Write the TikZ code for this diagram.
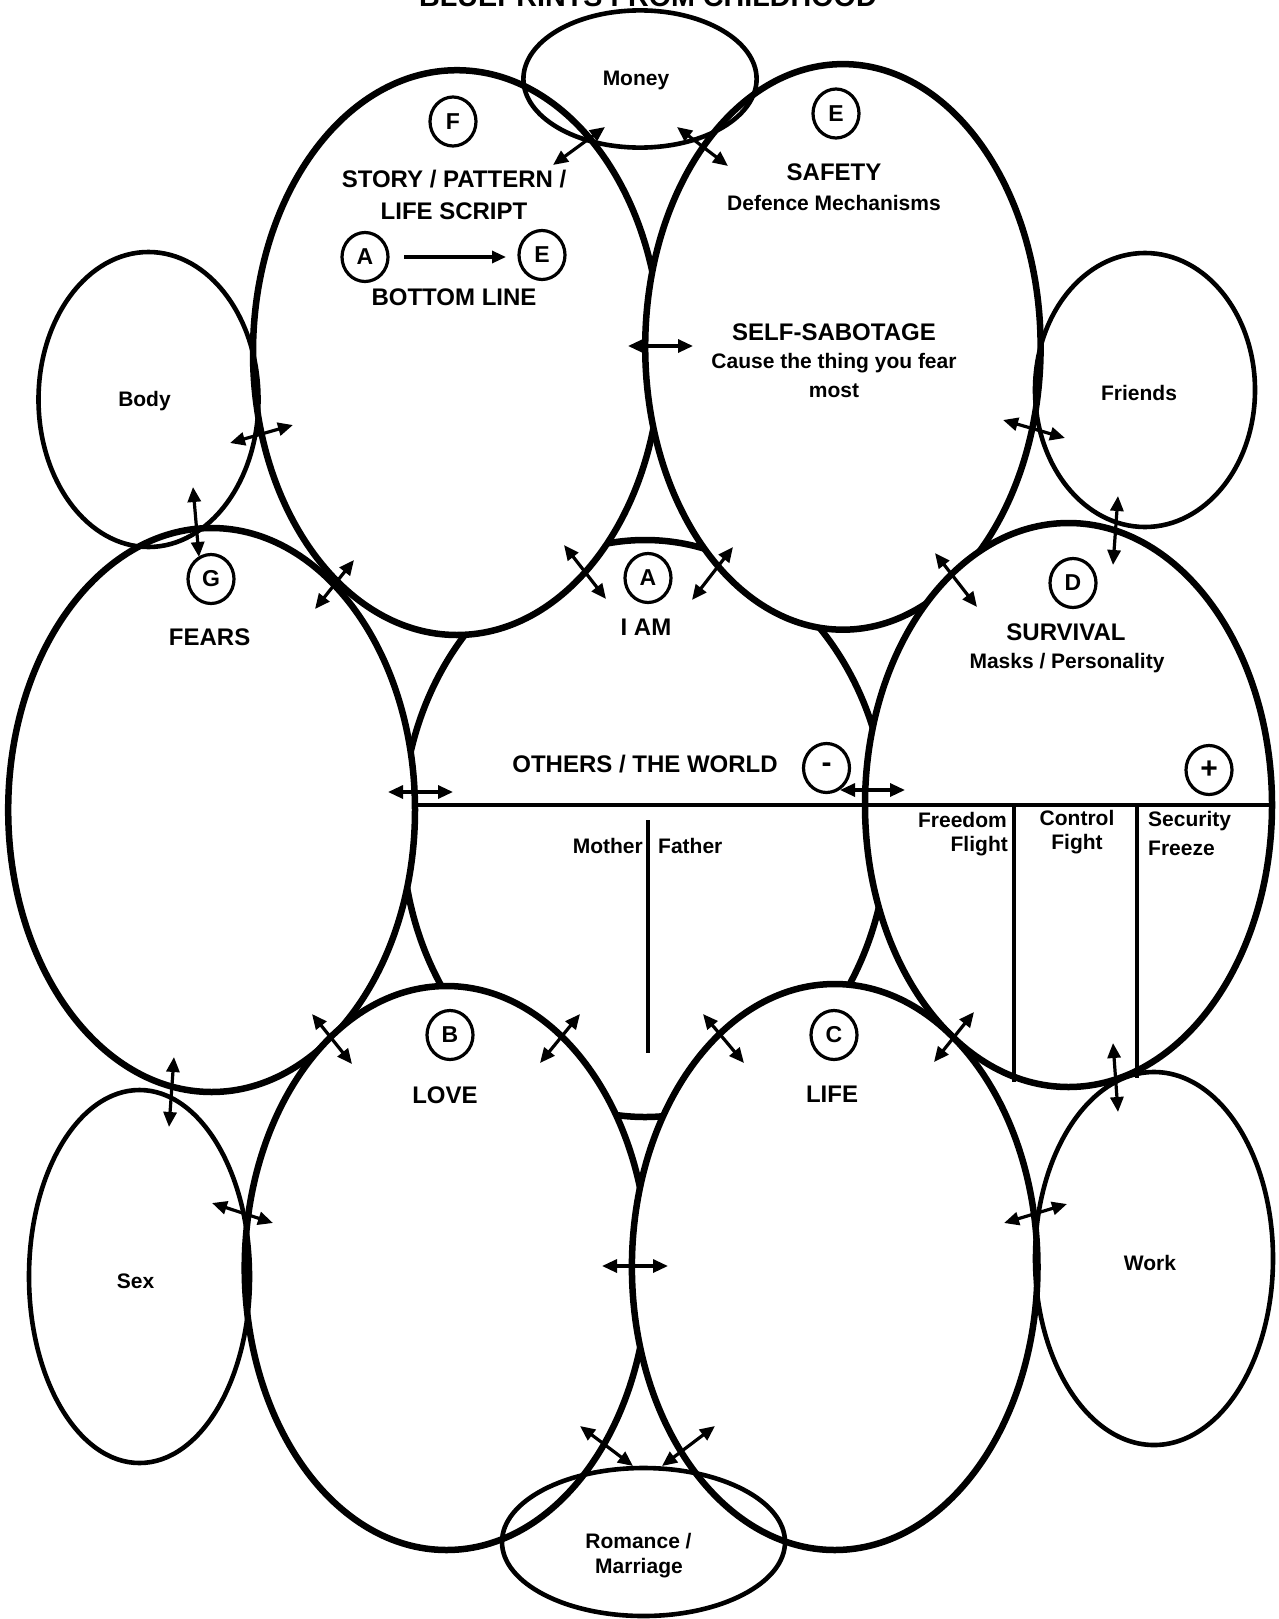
\documentclass[tikz,border=0pt]{standalone}
\usepackage{fontspec}
\setmainfont{Liberation Sans}
\usetikzlibrary{shapes.geometric, arrows.meta}
\begin{document}
\begin{tikzpicture}[x=1pt, y=-1pt,
  big/.style={ellipse, draw, line width=6.5pt, fill=white, inner sep=0pt, outer sep=0pt},
  small/.style={ellipse, draw, line width=4.6pt, inner sep=0pt, outer sep=0pt},
  tag/.style={ellipse, draw, line width=3.2pt, minimum width=46pt, minimum height=49pt, inner sep=0pt,
    font=\fontsize{23}{26}\selectfont\bfseries},
  head/.style={anchor=base, inner sep=0pt, font=\fontsize{24}{28}\selectfont\bfseries},
  sub/.style={anchor=base, inner sep=0pt, font=\fontsize{21}{25}\selectfont\bfseries},
  dbl/.style={{Triangle[length=15pt,width=13pt]}-{Triangle[length=15pt,width=13pt]}, line width=3.2pt},
  one/.style={-{Triangle[length=14pt,width=12pt]}, line width=3.2pt},
  rule/.style={line width=3.4pt}
]
\useasboundingbox (0,0) rectangle (1279,1619);

% title (cut at the top edge, as in the reference)
\node[anchor=base, inner sep=0pt, font=\fontsize{28.7}{32}\selectfont\bfseries] (title) at (648,7) {BLUEPRINTS FROM CHILDHOOD};

% central ellipse
\node[big, minimum width=486pt, minimum height=577pt] (A) at (645,828.5) {};
% main ellipses
\node[big, minimum width=407.8pt, minimum height=564.8pt] (F) at (456.9,352.6) {};
\node[big, minimum width=395.4pt, minimum height=565.6pt] (E) at (842.9,346.9) {};
\node[big, minimum width=406.8pt, minimum height=564pt] (G) at (211.6,810) {};
\node[big, minimum width=407pt, minimum height=564pt] (D) at (1068.5,805) {};
\node[big, minimum width=403.6pt, minimum height=564pt] (B) at (446.5,1268) {};
\node[big, minimum width=405.6pt, minimum height=566pt] (C) at (834.7,1267) {};

% small outer ellipses
\node[small, minimum width=233.2pt, minimum height=137.2pt] (money) at (640,79) {};
\node[small, minimum width=220pt, minimum height=295pt] (body) at (148.5,399.5) {};
\node[small, minimum width=220pt, minimum height=274pt] (friends) at (1145,390) {};
\node[small, minimum width=221pt, minimum height=373pt] (sex) at (139.5,1276.5) {};
\node[small, minimum width=238pt, minimum height=373pt] (work) at (1154,1258.5) {};
\node[small, minimum width=283pt, minimum height=148pt] (romance) at (643.5,1542) {};

% rules
\coordinate (hl) at (414,805);
\coordinate (hr) at (1270,805);
\draw[rule] (hl) -- (hr);
\coordinate (mft) at (648,820);
\coordinate (mfb) at (648,1053);
\draw[rule] (mft) -- (mfb);
\coordinate (s1t) at (1014,805);
\coordinate (s1b) at (1014,1082);
\draw[rule] (s1t) -- (s1b);
\coordinate (s2t) at (1137,805);
\coordinate (s2b) at (1137,1078);
\draw[rule] (s2t) -- (s2b);

% labels in ellipses
\node[tag] (tF) at (453,121.5) {F};
\node[head] (story1) at (454,187) {STORY / PATTERN /};
\node[head] (story2) at (454,219) {LIFE SCRIPT};
\node[tag] (tA1) at (365,257) {A};
\node[tag] (tE1) at (542,255) {E};
\node[head] (bottom) at (454,305) {BOTTOM LINE};

\node[tag] (tE) at (836,113.5) {E};
\node[head] (safety) at (834,180) {SAFETY};
\node[sub] (defence) at (834,210) {Defence Mechanisms};
\node[head] (sabot) at (834,340) {SELF-SABOTAGE};
\node[sub] (cause1) at (834,368) {Cause the thing you fear};
\node[sub] (cause2) at (834,397) {most};

\node[tag] (tG) at (211,579) {G};
\node[head] (fears) at (209.6,645) {FEARS};

\node[tag] (tA) at (648,578) {A};
\node[head] (iam) at (646,635) {I AM};
\node[head] (others) at (645,772) {OTHERS / THE WORLD};
\node[tag, font=\fontsize{30}{32}\selectfont\bfseries] (minus) at (826.5,768) {-};
\node[sub, anchor=base east] (mother) at (643,853) {Mother};
\node[sub, anchor=base west] (father) at (658,853) {Father};

\node[tag] (tD) at (1073,583) {D};
\node[head] (surv) at (1066,640) {SURVIVAL};
\node[sub] (masks) at (1067,668) {Masks / Personality};
\node[tag, font=\fontsize{30}{32}\selectfont\bfseries] (plus) at (1209,770) {+};
\node[sub, anchor=base east] (freedom) at (1007,827) {Freedom};
\node[sub, anchor=base east] (flight) at (1008,851) {Flight};
\node[sub] (control) at (1077,825) {Control};
\node[sub] (fight) at (1077,849) {Fight};
\node[sub, anchor=base west] (security) at (1148,826) {Security};
\node[sub, anchor=base west] (freeze) at (1148,855) {Freeze};

\node[tag] (tB) at (450,1035) {B};
\node[head] (love) at (445,1103) {LOVE};
\node[tag] (tC) at (834,1035) {C};
\node[head] (life) at (832,1102) {LIFE};

\node[sub] (lmoney) at (636,85) {Money};
\node[sub] (lbody) at (144.5,406) {Body};
\node[sub] (lfriends) at (1139,400) {Friends};
\node[sub] (lsex) at (135.5,1288) {Sex};
\node[sub] (lwork) at (1150,1270) {Work};
\node[sub] (lrom1) at (638.5,1548) {Romance /};
\node[sub] (lrom2) at (639,1573) {Marriage};

% A -> E arrow
\coordinate (ae1) at (404,257);
\coordinate (ae2) at (506,257);
\draw[one] (ae1) -- (ae2);

% double arrows (named end points)
\coordinate (a1s) at (553,165);   \coordinate (a1e) at (605,127);
\coordinate (a2s) at (677,127);   \coordinate (a2e) at (728,166);
\coordinate (a3s) at (628,346);   \coordinate (a3e) at (693,346);
\coordinate (a4s) at (230,443);   \coordinate (a4e) at (293,425);
\coordinate (a5s) at (193,487);   \coordinate (a5e) at (199,557);
\coordinate (a6s) at (315,609);   \coordinate (a6e) at (354,560);
\coordinate (a7s) at (564,545);   \coordinate (a7e) at (606,599);
\coordinate (a8s) at (692,600);   \coordinate (a8e) at (733,547);
\coordinate (a9s) at (935,553);   \coordinate (a9e) at (977,607);
\coordinate (a10s) at (1003,420); \coordinate (a10e) at (1065,438);
\coordinate (a11s) at (1118,496); \coordinate (a11e) at (1113,565);
\coordinate (a12s) at (388,792);  \coordinate (a12e) at (453,792);
\coordinate (a13s) at (840,790);  \coordinate (a13e) at (905,790);
\coordinate (a14s) at (312,1014); \coordinate (a14e) at (352,1064);
\coordinate (a15s) at (540,1063); \coordinate (a15e) at (580,1014);
\coordinate (a16s) at (703,1014); \coordinate (a16e) at (744,1063);
\coordinate (a17s) at (934,1062); \coordinate (a17e) at (974,1012);
\coordinate (a18s) at (174,1057); \coordinate (a18e) at (169,1127);
\coordinate (a19s) at (212,1203); \coordinate (a19e) at (273,1223);
\coordinate (a20s) at (602,1266); \coordinate (a20e) at (668,1266);
\coordinate (a21s) at (1004,1223);\coordinate (a21e) at (1067,1204);
\coordinate (a22s) at (1113,1043);\coordinate (a22e) at (1118,1112);
\coordinate (a23s) at (580,1426); \coordinate (a23e) at (633,1466);
\coordinate (a24s) at (662,1466); \coordinate (a24e) at (715,1426);
\foreach \i in {1,...,24} { \draw[dbl] (a\i s) -- (a\i e); }
\end{tikzpicture}
\end{document}
